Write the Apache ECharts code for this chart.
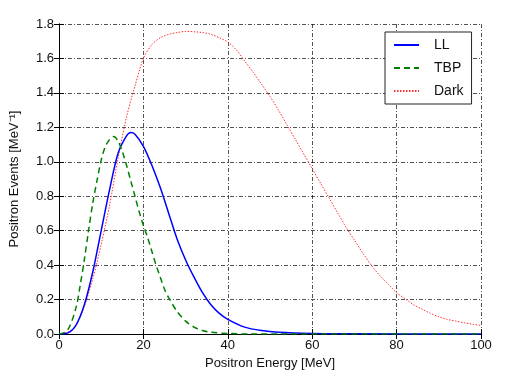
<!DOCTYPE html>
<html><head><meta charset="utf-8">
<script src="https://cdn.jsdelivr.net/npm/echarts@6/dist/echarts.min.js"></script>
<style>html,body{margin:0;padding:0;background:#fff}#c{width:520px;height:390px}</style>
</head><body><div id="c"></div>
<script>
const xTicks = [0, 20, 40, 60, 80, 100];
const yTicks = [0.0, 0.2, 0.4, 0.6, 0.8, 1.0, 1.2, 1.4, 1.6, 1.8];

const llE = [0, 2, 4, 6, 8, 10, 12, 14, 16, 17, 18, 20, 22, 24, 26, 28, 30, 32, 34, 36, 38, 40, 44, 48, 52, 60, 70, 100];
const llV = [0, 0.005, 0.05, 0.17, 0.36, 0.6, 0.84, 1.05, 1.15, 1.17, 1.16, 1.09, 0.98, 0.85, 0.7, 0.55, 0.43, 0.33, 0.24, 0.17, 0.12, 0.085, 0.04, 0.02, 0.01, 0.003, 0.001, 0];

const tbpE = [0, 2, 4, 5, 6, 7, 8, 9, 10, 11, 12, 13, 14, 15, 16, 17, 18, 19, 20, 21, 22, 23, 24, 25, 26, 28, 30, 32, 34, 36, 40, 45, 100];
const tbpV = [0, 0.02, 0.15, 0.28, 0.43, 0.6, 0.76, 0.89, 1.01, 1.09, 1.13, 1.147, 1.12, 1.06, 0.98, 0.89, 0.8, 0.71, 0.63, 0.56, 0.48, 0.4, 0.33, 0.26, 0.21, 0.13, 0.075, 0.04, 0.02, 0.01, 0.003, 0, 0];

const darkE = [0, 2, 4, 6, 8, 10, 12, 14, 16, 18, 20, 22, 24, 26, 28, 30, 32, 34, 36, 38, 40, 42, 44, 46, 48, 50, 52, 54, 56, 58, 60, 62, 64, 66, 68, 70, 72, 74, 76, 78, 80, 82, 84, 86, 88, 90, 92, 94, 96, 98, 100];
const darkV = [0, 0.01, 0.05, 0.16, 0.32, 0.52, 0.75, 1.02, 1.26, 1.44, 1.6, 1.68, 1.72, 1.74, 1.75, 1.757, 1.755, 1.75, 1.74, 1.72, 1.695, 1.65, 1.585, 1.52, 1.45, 1.38, 1.30, 1.215, 1.13, 1.045, 0.96, 0.875, 0.79, 0.705, 0.62, 0.545, 0.47, 0.4, 0.34, 0.29, 0.24, 0.205, 0.17, 0.145, 0.12, 0.10, 0.085, 0.075, 0.065, 0.057, 0.05];

const pairs = (xs, ys) => xs.map((x, i) => [x, ys[i]]);
const font = 'Liberation Sans, Arial, sans-serif';
const gridLine = { show: true, lineStyle: { color: '#000', width: 0.8, type: [4, 2, 1, 2], opacity: 0.85 } };

const chart = echarts.init(document.getElementById('c'));
chart.setOption({
  animation: false,
  backgroundColor: '#fff',
  grid: { left: 59, right: 39, top: 24, bottom: 56 },
  legend: {
    orient: 'vertical', left: 385, top: 32,
    backgroundColor: '#fff', borderColor: '#222', borderWidth: 1,
    padding: [6, 8, 6, 8], itemGap: 9, itemWidth: 25, itemHeight: 14,
    itemStyle: { opacity: 0, color: 'rgba(0,0,0,0)', borderWidth: 0 },
    textStyle: { fontFamily: font, fontSize: 14, color: '#111', padding: [0, 0, 0, 10] },
    data: ['LL', 'TBP', 'Dark']
  },
  xAxis: [
    { type: 'value', min: 0, max: 100, interval: 20, position: 'bottom',
      name: 'Positron Energy [MeV]', nameLocation: 'middle', nameGap: 22,
      nameTextStyle: { fontFamily: font, fontSize: 13, color: '#111' },
      axisLine: { show: true, lineStyle: { color: '#000', width: 1 } },
      axisTick: { show: true, inside: true, length: 5, lineStyle: { color: '#000' } },
      axisLabel: { fontFamily: font, fontSize: 13, color: '#111', margin: 5 },
      splitLine: gridLine },
    { type: 'value', min: 0, max: 100, interval: 20, position: 'top',
      axisLine: { show: true, lineStyle: { color: '#000', width: 1 } },
      axisTick: { show: true, inside: true, length: 5, lineStyle: { color: '#000' } },
      axisLabel: { show: false }, splitLine: { show: false } }
  ],
  yAxis: [
    { type: 'value', min: 0, max: 1.8, interval: 0.2, position: 'left',
      name: 'Positron Events [MeV\u207B\u00B9]', nameLocation: 'middle', nameGap: 38, nameRotate: 90,
      nameTextStyle: { fontFamily: font, fontSize: 13, color: '#111' },
      axisLine: { show: true, lineStyle: { color: '#000', width: 1 } },
      axisTick: { show: true, inside: true, length: 5, lineStyle: { color: '#000' } },
      axisLabel: { fontFamily: font, fontSize: 13, color: '#111', margin: 5, formatter: v => v.toFixed(1) },
      splitLine: gridLine },
    { type: 'value', min: 0, max: 1.8, interval: 0.2, position: 'right',
      axisLine: { show: true, lineStyle: { color: '#000', width: 1 } },
      axisTick: { show: true, inside: true, length: 5, lineStyle: { color: '#000' } },
      axisLabel: { show: false }, splitLine: { show: false } }
  ],
  series: [
    { name: 'LL', type: 'line', data: pairs(llE, llV), smooth: 0.3, symbol: 'none',
      lineStyle: { color: '#0000ff', width: 1.5, type: 'solid' }, itemStyle: { color: '#0000ff' }, z: 3 },
    { name: 'TBP', type: 'line', data: pairs(tbpE, tbpV), smooth: 0.3, symbol: 'none',
      lineStyle: { color: '#008000', width: 1.5, type: [6, 4] }, itemStyle: { color: '#008000' }, z: 4 },
    { name: 'Dark', type: 'line', data: pairs(darkE, darkV), smooth: 0.3, symbol: 'none',
      lineStyle: { color: '#ff3030', width: 1, type: [1.5, 1.5] }, itemStyle: { color: '#ff3030' }, z: 2 }
  ]
});
</script>
</body></html>
